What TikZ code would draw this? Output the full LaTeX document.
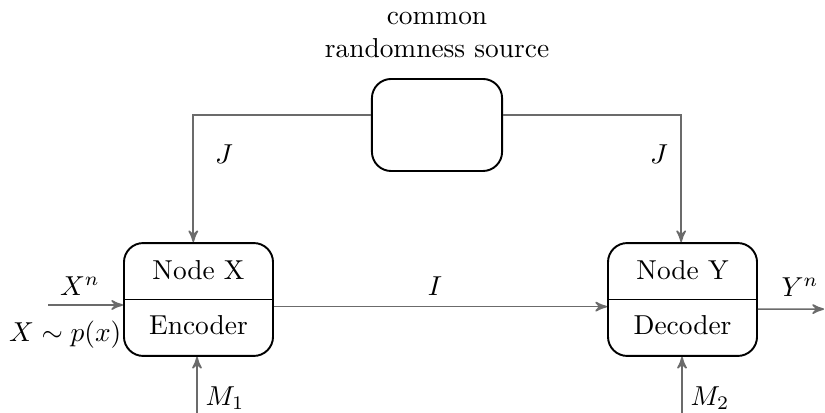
\documentclass[tikz,border=0pt]{standalone}
\usepackage{amsmath, amssymb}
\usepackage{tikz}
\usetikzlibrary{calc,arrows,positioning}
\definecolor{linegrey}{gray}{0.42}

\begin{document}
\begin{tikzpicture}[x=0.365pt,y=-0.365pt,node distance=4pt and 5mm,>=stealth']

\tikzset{codebox/.style={draw,line width=0.7pt,rounded corners=7pt,minimum width=54.4pt,minimum height=41.2pt,inner sep=0pt},
sourcebox/.style={draw,line width=0.7pt,rounded corners=7pt,minimum width=47.5pt,minimum height=33.6pt,inner sep=0pt},
link/.style={->,draw=linegrey,line width=0.6pt}}

\useasboundingbox (0,0) rectangle (825,413);

% Boxes
\node[sourcebox] (source) at (437,125) {};
\node[align=center,above=of source] (sourceLabel) {common\\randomness source};
\node[codebox] (nodeX) at (198.5,299.5) {};
\node[codebox] (nodeY) at (682.5,299.5) {};

% Split lines and texts
\foreach \b/\uptext/\lowtext in {nodeX/Node X/Encoder, nodeY/Node Y/Decoder} {
  \draw[line width=0.7pt] (\b.west) -- (\b.east);
  \node (\b-up) at ($(\b.center)+(0,-29)$) {\uptext};
  \node (\b-low) at ($(\b.center)+(0,26)$) {\lowtext};
}

% Free ends
\coordinate (xin) at (48,305);
\coordinate (yout) at (824,309.1);
\coordinate (m1in) at (197,413);
\coordinate (m2in) at (682,413);

% Edges
\draw[link] ([yshift=3.65pt]source.west) -| ([xshift=-1.9pt]nodeX.north);
\draw[link] ([yshift=3.65pt]source.east) -| ([xshift=-0.5pt]nodeY.north);
\draw[link] (xin) -- ([yshift=-2pt]nodeX.west);
\draw[link] ([yshift=-2.6pt]nodeX.east) -- ([yshift=-2.6pt]nodeY.west);
\draw[link] ([yshift=-3.5pt]nodeY.east) -- (yout);
\draw[link] (m1in) -- (m1in |- nodeX.south);
\draw[link] (m2in) -- (m2in |- nodeY.south);

% Labels
\node (jLeft) at (224,154) {$J$};
\node (jRight) at (659,154) {$J$};
\node (iLabel) at (435,286) {$I$};
\node (xnLabel) at (80,286) {$X^n$};
\node[anchor=east] (pxLabel) at (131,335) {$X\sim p(x)$};
\node (ynLabel) at (800,287) {$Y^n$};
\node (m1Label) at (225,398) {$M_1$};
\node (m2Label) at (710,398) {$M_2$};

\end{tikzpicture}
\end{document}
